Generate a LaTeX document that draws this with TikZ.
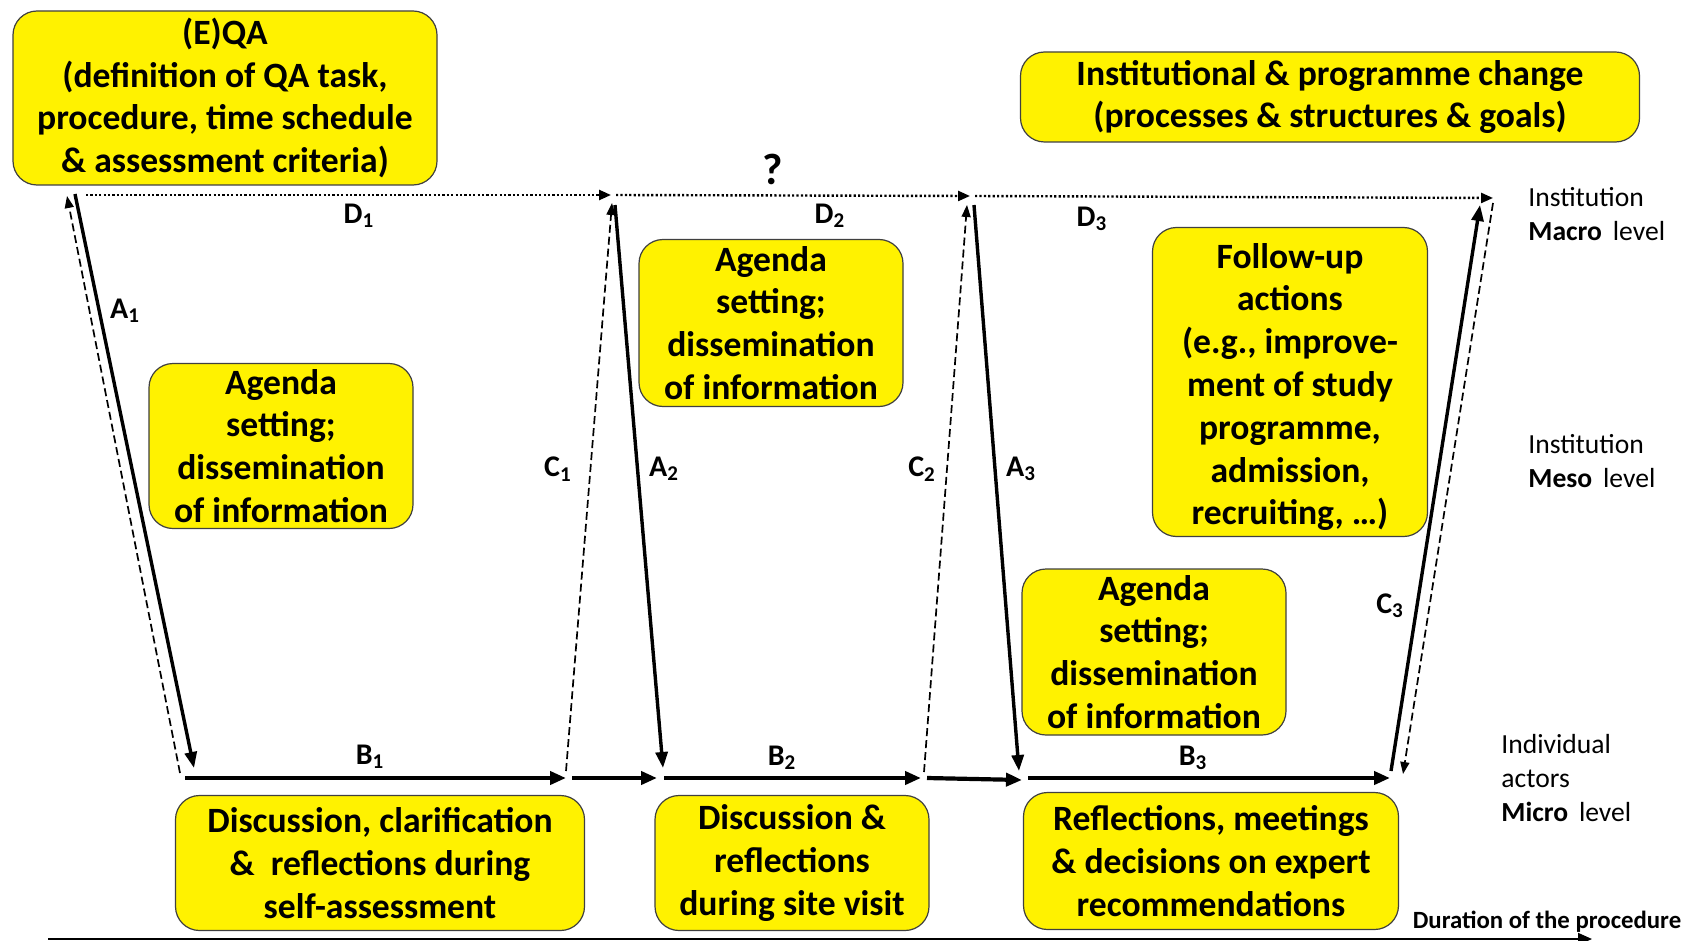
\documentclass[tikz,border=0pt]{standalone}
\usepackage{fontspec}
\setmainfont{Carlito}
\usetikzlibrary{arrows.meta}
\begin{document}
\begin{tikzpicture}[x=0.5pt,y=-0.5pt,
  bx/.style={draw=black!75, line width=0.6pt, fill=yellow, rounded corners=12pt,
    align=center, inner sep=0pt, font=\fontsize{17.8}{21.4}\selectfont\bfseries},
  lbl/.style={font=\fontsize{15}{18}\selectfont\bfseries, inner sep=0pt},
  lvl/.style={font=\fontsize{13.8}{17.2}\selectfont, align=left, anchor=west, inner sep=0pt},
  solidarr/.style={line width=1.7pt, -{Triangle[length=8pt,width=6pt]}},
  horarr/.style={line width=2.1pt, -{Triangle[length=8pt,width=6.5pt]}},
  dasharr/.style={line width=0.85pt, dash pattern=on 4pt off 2pt, -{Triangle[length=6pt,width=4.5pt]}},
  dotarr/.style={line width=1.2pt, dash pattern=on 1.1pt off 1.1pt, -{Triangle[length=6pt,width=5pt]}}
]
\path[fill=white] (0,0) rectangle (1690,941);
\useasboundingbox (0,0) rectangle (1690,941);

% boxes
\node[bx, minimum width=212pt, minimum height=87pt] (qa) at (225,98)
  {(E)QA\\(definition of QA task,\\procedure, time schedule\\\& assessment criteria)};
\node[bx, minimum width=309.5pt, minimum height=45pt] (inst) at (1330,97)
  {Institutional \& programme change\\(processes \& structures \& goals)};
\node[bx, minimum width=132pt, minimum height=82.5pt] (ag1) at (281,446)
  {Agenda\\setting;\\dissemination\\of information};
\node[bx, minimum width=132pt, minimum height=83.5pt] (ag2) at (771,323)
  {Agenda\\setting;\\dissemination\\of information};
\node[bx, minimum width=137.5pt, minimum height=154.5pt] (fol) at (1290,382) {};
\node[align=center, inner sep=0pt, font=\fontsize{17.8}{21.4}\selectfont\bfseries] (folt) at (1290,387)
  {Follow-up\\actions\\(e.g., improve-\\ment of study\\programme,\\admission,\\recruiting, …)};
\node[bx, minimum width=132pt, minimum height=83pt] (ag3) at (1154,652)
  {Agenda\\setting;\\dissemination\\of information};
\node[bx, minimum width=204.5pt, minimum height=67.5pt] (d1) at (380,863)
  {Discussion, clarification\\\&\ \ reflections during\\self-assessment};
\node[bx, minimum width=137pt, minimum height=67.5pt] (d2) at (792,863)
  {Discussion \&\\reflections\\during site visit};
\node[bx, minimum width=187.5pt, minimum height=68.5pt] (d3) at (1211,861)
  {Reflections, meetings\\\& decisions on expert\\recommendations};

% coordinates
\coordinate (t0) at (86,195);
\coordinate (t1) at (611,195);
\coordinate (t1b) at (616,195);
\coordinate (t2) at (970,196);
\coordinate (t2b) at (975,196);
\coordinate (t3) at (1493,198);

\coordinate (a1s) at (75,194);   \coordinate (a1e) at (194,768);
\coordinate (k1s) at (180,773);  \coordinate (k1e) at (67,196);
\coordinate (b1s) at (185,778);  \coordinate (b1e) at (566,778);
\coordinate (c1s) at (566,771);  \coordinate (c1e) at (612,203);
\coordinate (s1s) at (572,778);  \coordinate (s1e) at (657,778);
\coordinate (a2s) at (615,205);  \coordinate (a2e) at (663,768);
\coordinate (b2s) at (664,778);  \coordinate (b2e) at (921,778);
\coordinate (c2s) at (924,772);  \coordinate (c2e) at (967,205);
\coordinate (s2s) at (927,778);  \coordinate (s2e) at (1022,780);
\coordinate (a3s) at (974,205);  \coordinate (a3e) at (1019,771);
\coordinate (b3s) at (1028,778); \coordinate (b3e) at (1390,778);
\coordinate (c3s) at (1391,771); \coordinate (c3e) at (1480,205);
\coordinate (k3s) at (1493,203); \coordinate (k3e) at (1403,774);
\coordinate (dur0) at (48,939);  \coordinate (dur1) at (1592,939);

% top dotted arrows
\draw[dotarr] (t0) -- (t1);
\draw[dotarr] (t1b) -- (t2);
\draw[dotarr] (t2b) -- (t3);

% A arrows
\draw[solidarr] (a1s) -- (a1e);
\draw[solidarr] (a2s) -- (a2e);
\draw[solidarr] (a3s) -- (a3e);
\draw[solidarr] (c3s) -- (c3e);

% dashed
\draw[dasharr] (k1s) -- (k1e);
\draw[dasharr] (c1s) -- (c1e);
\draw[dasharr] (c2s) -- (c2e);
\draw[dasharr] (k3s) -- (k3e);

% horizontal
\draw[horarr] (b1s) -- (b1e);
\draw[horarr] (s1s) -- (s1e);
\draw[horarr] (b2s) -- (b2e);
\draw[horarr] (s2s) -- (s2e);
\draw[horarr] (b3s) -- (b3e);

% duration
\draw[line width=0.9pt, -{Triangle[length=7pt,width=6pt]}] (dur0) -- (dur1);
\node[font=\fontsize{12.4}{14}\selectfont\bfseries, inner sep=0pt] (dur) at (1547,922) {Duration of the procedure};

% labels
\node[lbl] (lD1) at (359,216) {D\textsubscript{1}};
\node[lbl] (lD2) at (830,216) {D\textsubscript{2}};
\node[lbl] (lD3) at (1092,219) {D\textsubscript{3}};
\node[font=\fontsize{22}{24}\selectfont\bfseries, inner sep=0pt] (q) at (773,169) {?};
\node[lbl] (lA1) at (125,311) {A\textsubscript{1}};
\node[lbl] (lA2) at (664,469) {A\textsubscript{2}};
\node[lbl] (lA3) at (1021,469) {A\textsubscript{3}};
\node[lbl] (lC1) at (558,469) {C\textsubscript{1}};
\node[lbl] (lC2) at (922,469) {C\textsubscript{2}};
\node[lbl] (lC3) at (1390,606) {C\textsubscript{3}};
\node[lbl] (lB1) at (370,757) {B\textsubscript{1}};
\node[lbl] (lB2) at (782,758) {B\textsubscript{2}};
\node[lbl] (lB3) at (1193,758) {B\textsubscript{3}};

% level labels
\node[lvl] (macro) at (1528,214) {Institution\\\textbf{Macro}\ \,level};
\node[lvl] (meso) at (1528,461) {Institution\\\textbf{Meso}\ \,level};
\node[lvl] (micro) at (1501,778) {Individual\\actors\\\textbf{Micro}\ \,level};
\end{tikzpicture}
\end{document}
